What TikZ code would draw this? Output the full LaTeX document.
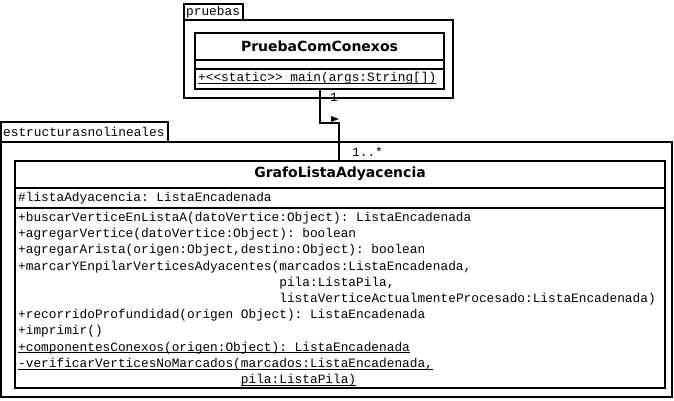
\documentclass[tikz,border=0pt]{standalone}
\usepackage{fontspec}
\setmonofont{Liberation Mono}
\newfontfamily\classfont{DejaVu Sans}
\newcommand\ulstatic[1]{\underline{\smash{#1}}}
\tikzset{
  pkgbody/.style={line width=2pt},
  pkgtab/.style={line width=1.2pt},
  classbox/.style={draw, line width=2pt, inner sep=0pt, anchor=north west},
  member/.style={font=\ttfamily\fontsize{12.8}{16.2}\selectfont, anchor=base west, inner sep=0pt, align=left},
  classname/.style={font=\classfont\bfseries\fontsize{14}{16}\selectfont, inner sep=0pt},
}
\begin{document}
\begin{tikzpicture}[x=1pt,y=-1pt]
  \useasboundingbox (0,0) rectangle (674,400);
  % paquete pruebas
  \draw[pkgtab] (184,4) rectangle (243,20);
  \draw[pkgbody] (184,20) rectangle (453,98);
  \node[member, anchor=west] (pruebas) at (186,12) {pruebas};
  \node[classbox, minimum width=249, minimum height=56] (prueba) at (194,32) {};
  \draw[line width=2pt] (prueba.west |- 0,60) -- (prueba.east |- 0,60);
  \draw[line width=2pt] (prueba.west |- 0,69) -- (prueba.east |- 0,69);
  \node[classname] (pruebaname) at (prueba.north |- 0,46) {PruebaComConexos};
  \node[member] (main) at (198,81.5) {\ulstatic{+<<static>> main(args:String[])}};
  % paquete estructurasnolineales
  \draw[pkgtab] (1,122) rectangle (168,142);
  \draw[pkgbody] (1,142) rectangle (672,397);
  \node[member, anchor=west] (estructuras) at (3,132) {estructurasnolineales};
  \node[classbox, minimum width=650, minimum height=227] (grafo) at (14,160) {};
  \draw[line width=2pt] (grafo.west |- 0,188) -- (grafo.east |- 0,188);
  \draw[line width=2pt] (grafo.west |- 0,208) -- (grafo.east |- 0,208);
  \node[classname] (grafoname) at (grafo.north |- 0,174) {GrafoListaAdyacencia};
  \node[member] (attr) at (18,201.5) {\#listaAdyacencia: ListaEncadenada};
  % base = ultima linea
  \node[member] (ops) at (18,383.5) {%
    +buscarVerticeEnListaA(datoVertice:Object): ListaEncadenada\\
    +agregarVertice(datoVertice:Object): boolean\\
    +agregarArista(origen:Object,destino:Object): boolean\\
    +marcarYEnpilarVerticesAdyacentes(marcados:ListaEncadenada,\\
    \phantom{+marcarYEnpilarVerticesAdyacentes(}pila:ListaPila,\\
    \phantom{+marcarYEnpilarVerticesAdyacentes(}listaVerticeActualmenteProcesado:ListaEncadenada)\\
    +recorridoProfundidad(origen Object): ListaEncadenada\\
    +imprimir()\\
    \ulstatic{+componentesConexos(origen:Object): ListaEncadenada}\\
    \ulstatic{-verificarVerticesNoMarcados(marcados:ListaEncadenada,}\\
    \phantom{-verificarVerticesNoMarcados(}\ulstatic{pila:ListaPila)}};
  % asociacion
  \coordinate (bend) at (339,123);
  \draw[line width=2pt] (prueba.south) |- (bend) -- (bend |- grafo.north);
  \fill (bend) ++(-8,-7) -- ++(8,3) -- ++(-8,3) -- cycle;
  \node[member, anchor=center] (mult1) at (334,97) {1};
  \node[member, anchor=west] (mult2) at (352,152) {1..*};
\end{tikzpicture}
\end{document}
